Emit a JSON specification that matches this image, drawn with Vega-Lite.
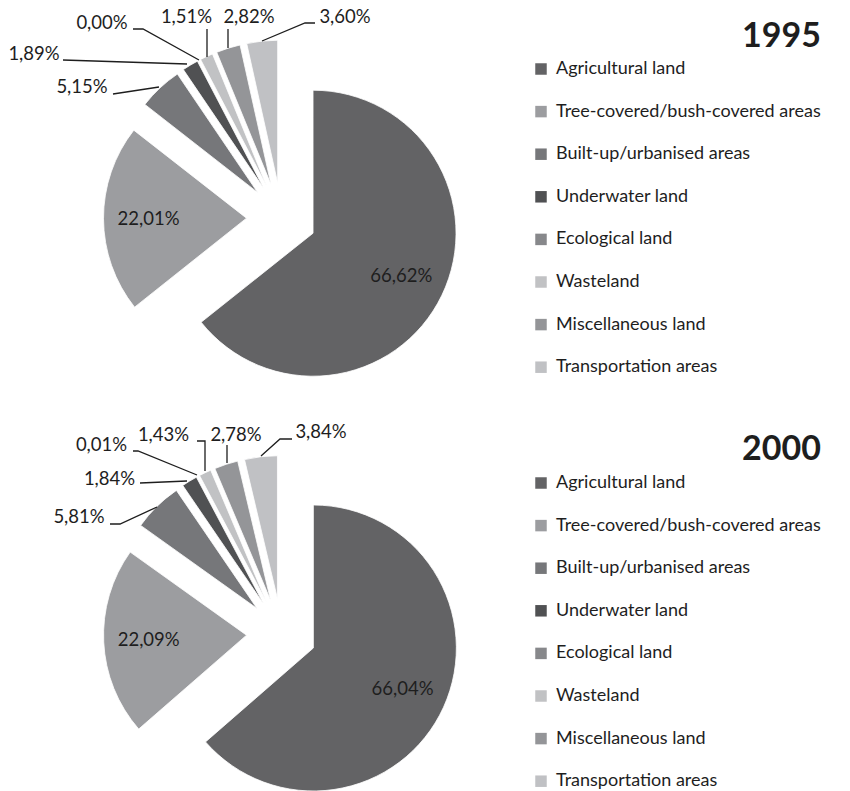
{
  "$schema": "https://vega.github.io/schema/vega-lite/v6.json",
  "padding": 0,
  "spacing": 0,
  "background": "white",
  "config": {"view": {"stroke": null}, "font": "Lato"},
  "datasets": {
    "shares": [
      {"year": 1995, "category": "Agricultural land", "value": 66.62},
      {"year": 1995, "category": "Tree-covered/bush-covered areas", "value": 22.01},
      {"year": 1995, "category": "Built-up/urbanised areas", "value": 5.15},
      {"year": 1995, "category": "Underwater land", "value": 1.89},
      {"year": 1995, "category": "Ecological land", "value": 0.00},
      {"year": 1995, "category": "Wasteland", "value": 1.51},
      {"year": 1995, "category": "Miscellaneous land", "value": 2.82},
      {"year": 1995, "category": "Transportation areas", "value": 3.60},
      {"year": 2000, "category": "Agricultural land", "value": 66.04},
      {"year": 2000, "category": "Tree-covered/bush-covered areas", "value": 22.09},
      {"year": 2000, "category": "Built-up/urbanised areas", "value": 5.81},
      {"year": 2000, "category": "Underwater land", "value": 1.84},
      {"year": 2000, "category": "Ecological land", "value": 0.01},
      {"year": 2000, "category": "Wasteland", "value": 1.43},
      {"year": 2000, "category": "Miscellaneous land", "value": 2.78},
      {"year": 2000, "category": "Transportation areas", "value": 3.84}
    ],
    "outsideLabels": [
      {"year": 1995, "label": "5,15%", "lx": -199.5, "ly": -131},
      {"year": 1995, "label": "1,89%", "lx": -247.5, "ly": -164},
      {"year": 1995, "label": "0,00%", "lx": -179.5, "ly": -195},
      {"year": 1995, "label": "1,51%", "lx": -95, "ly": -201},
      {"year": 1995, "label": "2,82%", "lx": -32.5, "ly": -201},
      {"year": 1995, "label": "3,60%", "lx": 63.5, "ly": -201},
      {"year": 2000, "label": "5,81%", "lx": -202.5, "ly": -116.5},
      {"year": 2000, "label": "1,84%", "lx": -172, "ly": -154.5},
      {"year": 2000, "label": "0,01%", "lx": -180, "ly": -188.5},
      {"year": 2000, "label": "1,43%", "lx": -118, "ly": -198.5},
      {"year": 2000, "label": "2,78%", "lx": -45.5, "ly": -198.5},
      {"year": 2000, "label": "3,84%", "lx": 39.5, "ly": -201.5}
    ],
    "leaders": [
      {"year": 1995, "id": "a", "seq": 1, "px": -168.5, "py": -124},
      {"year": 1995, "id": "a", "seq": 2, "px": -122.5, "py": -131},
      {"year": 1995, "id": "b", "seq": 1, "px": -218.5, "py": -158},
      {"year": 1995, "id": "b", "seq": 2, "px": -94.5, "py": -154},
      {"year": 1995, "id": "c", "seq": 1, "px": -148.5, "py": -189},
      {"year": 1995, "id": "c", "seq": 2, "px": -138.5, "py": -189},
      {"year": 1995, "id": "c", "seq": 3, "px": -82.5, "py": -158},
      {"year": 1995, "id": "d", "seq": 1, "px": -74.5, "py": -189},
      {"year": 1995, "id": "d", "seq": 2, "px": -74.5, "py": -161},
      {"year": 1995, "id": "e", "seq": 1, "px": -53.5, "py": -189},
      {"year": 1995, "id": "e", "seq": 2, "px": -53.5, "py": -170},
      {"year": 1995, "id": "f", "seq": 1, "px": -19.5, "py": -177},
      {"year": 1995, "id": "f", "seq": 2, "px": 23.5, "py": -195},
      {"year": 1995, "id": "f", "seq": 3, "px": 33.5, "py": -195},
      {"year": 2000, "id": "a", "seq": 1, "px": -171.5, "py": -109.5},
      {"year": 2000, "id": "a", "seq": 2, "px": -161.5, "py": -109.5},
      {"year": 2000, "id": "a", "seq": 3, "px": -124.5, "py": -126.5},
      {"year": 2000, "id": "b", "seq": 1, "px": -141.5, "py": -150.5},
      {"year": 2000, "id": "b", "seq": 2, "px": -94.5, "py": -152.5},
      {"year": 2000, "id": "c", "seq": 1, "px": -148.5, "py": -182.5},
      {"year": 2000, "id": "c", "seq": 2, "px": -143.5, "py": -182.5},
      {"year": 2000, "id": "c", "seq": 3, "px": -84.5, "py": -158.5},
      {"year": 2000, "id": "d", "seq": 1, "px": -84.5, "py": -192.5},
      {"year": 2000, "id": "d", "seq": 2, "px": -76.5, "py": -192.5},
      {"year": 2000, "id": "d", "seq": 3, "px": -76.5, "py": -162.5},
      {"year": 2000, "id": "e", "seq": 1, "px": -54.5, "py": -188.5},
      {"year": 2000, "id": "e", "seq": 2, "px": -54.5, "py": -170.5},
      {"year": 2000, "id": "f", "seq": 1, "px": -20.5, "py": -177.5},
      {"year": 2000, "id": "f", "seq": 2, "px": -1.5, "py": -194.5},
      {"year": 2000, "id": "f", "seq": 3, "px": 10.5, "py": -194.5}
    ]
  },
  "resolve": {"scale": {"color": "independent"}, "legend": {"color": "independent"}},
  "vconcat": [
    {
      "width": 850,
      "height": 395,
      "layer": [
        {
          "data": {"name": "shares"},
          "transform": [
            {"filter": "datum.year == 1995"},
            {"window": [{"op": "sum", "field": "value", "as": "cum"}], "frame": [null, 0]},
            {"joinaggregate": [{"op": "sum", "field": "value", "as": "total"}]},
            {"calculate": "(datum.cum - datum.value) / datum.total", "as": "f0"},
            {"calculate": "datum.cum / datum.total", "as": "f1"},
            {"calculate": "PI * (datum.f0 + datum.f1)", "as": "mid"},
            {"calculate": "35 * sin(datum.mid)", "as": "cx"},
            {"calculate": "-35 * cos(datum.mid)", "as": "cy"}
          ],
          "mark": {"type": "arc", "radius": 143, "stroke": "white", "strokeWidth": 0.8},
          "encoding": {
            "x": {"field": "cx", "type": "quantitative", "scale": {"domain": [-281.5, 568.5], "nice": false, "zero": false}, "axis": null},
            "y": {"field": "cy", "type": "quantitative", "scale": {"domain": [-218, 177], "nice": false, "zero": false, "reverse": true}, "axis": null},
            "theta": {"field": "f0", "type": "quantitative", "scale": {"domain": [0, 1], "range": [0, 6.283185307179586], "nice": false}},
            "theta2": {"field": "f1"},
            "color": {
              "field": "category", "type": "nominal",
              "scale": {
                "domain": ["Agricultural land", "Tree-covered/bush-covered areas", "Built-up/urbanised areas", "Underwater land", "Ecological land", "Wasteland", "Miscellaneous land", "Transportation areas"],
                "range": ["#636365", "#9c9da0", "#76777a", "#505153", "#87888b", "#c1c2c4", "#949598", "#c0c1c4"]
              },
              "legend": {
                "orient": "none", "legendX": 532, "legendY": 20, "padding": 0,
                "title": "1995", "titleFontSize": 34, "titleFontWeight": "bold", "titleAnchor": "end", "titleColor": "#1e1e1e", "titlePadding": 6,
                "labelFontSize": 18, "labelColor": "#1e1e1e", "labelOffset": 6, "labelLimit": 400,
                "symbolType": "square", "symbolSize": 132, "symbolStrokeWidth": 0, "rowPadding": 24.6
              }
            }
          }
        },
        {
          "data": {"name": "shares"},
          "transform": [
            {"filter": "datum.year == 1995"},
            {"window": [{"op": "sum", "field": "value", "as": "cum"}], "frame": [null, 0]},
            {"joinaggregate": [{"op": "sum", "field": "value", "as": "total"}]},
            {"filter": "datum.value > 10"},
            {"calculate": "PI * (2 * datum.cum - datum.value) / datum.total", "as": "mid"},
            {"calculate": "133 * sin(datum.mid)", "as": "lx"},
            {"calculate": "-133 * cos(datum.mid)", "as": "ly"},
            {"calculate": "replace(format(datum.value, '.2f'), '.', ',') + '%'", "as": "label"}
          ],
          "mark": {"type": "text", "fontSize": 18.5, "color": "#1e1e1e"},
          "encoding": {
            "x": {"field": "lx", "type": "quantitative"},
            "y": {"field": "ly", "type": "quantitative"},
            "text": {"field": "label"}
          }
        },
        {
          "data": {"name": "leaders"},
          "transform": [{"filter": "datum.year == 1995"}],
          "mark": {"type": "line", "color": "#1e1e1e", "strokeWidth": 1.3},
          "encoding": {
            "x": {"field": "px", "type": "quantitative"},
            "y": {"field": "py", "type": "quantitative"},
            "detail": {"field": "id"},
            "order": {"field": "seq"}
          }
        },
        {
          "data": {"name": "outsideLabels"},
          "transform": [{"filter": "datum.year == 1995"}],
          "mark": {"type": "text", "fontSize": 18.5, "color": "#1e1e1e"},
          "encoding": {
            "x": {"field": "lx", "type": "quantitative"},
            "y": {"field": "ly", "type": "quantitative"},
            "text": {"field": "label"}
          }
        }
      ]
    },
    {
      "width": 850,
      "height": 396,
      "layer": [
        {
          "data": {"name": "shares"},
          "transform": [
            {"filter": "datum.year == 2000"},
            {"window": [{"op": "sum", "field": "value", "as": "cum"}], "frame": [null, 0]},
            {"joinaggregate": [{"op": "sum", "field": "value", "as": "total"}]},
            {"calculate": "(datum.cum - datum.value) / datum.total", "as": "f0"},
            {"calculate": "datum.cum / datum.total", "as": "f1"},
            {"calculate": "PI * (datum.f0 + datum.f1)", "as": "mid"},
            {"calculate": "35 * sin(datum.mid)", "as": "cx"},
            {"calculate": "-35 * cos(datum.mid)", "as": "cy"}
          ],
          "mark": {"type": "arc", "radius": 143, "stroke": "white", "strokeWidth": 0.8},
          "encoding": {
            "x": {"field": "cx", "type": "quantitative", "scale": {"domain": [-281.5, 568.5], "nice": false, "zero": false}, "axis": null},
            "y": {"field": "cy", "type": "quantitative", "scale": {"domain": [-238.5, 157.5], "nice": false, "zero": false, "reverse": true}, "axis": null},
            "theta": {"field": "f0", "type": "quantitative", "scale": {"domain": [0, 1], "range": [0, 6.283185307179586], "nice": false}},
            "theta2": {"field": "f1"},
            "color": {
              "field": "category", "type": "nominal",
              "scale": {
                "domain": ["Agricultural land", "Tree-covered/bush-covered areas", "Built-up/urbanised areas", "Underwater land", "Ecological land", "Wasteland", "Miscellaneous land", "Transportation areas"],
                "range": ["#636365", "#9c9da0", "#76777a", "#505153", "#87888b", "#c1c2c4", "#949598", "#c0c1c4"]
              },
              "legend": {
                "orient": "none", "legendX": 532, "legendY": 38, "padding": 0,
                "title": "2000", "titleFontSize": 34, "titleFontWeight": "bold", "titleAnchor": "end", "titleColor": "#1e1e1e", "titlePadding": 7,
                "labelFontSize": 18, "labelColor": "#1e1e1e", "labelOffset": 6, "labelLimit": 400,
                "symbolType": "square", "symbolSize": 132, "symbolStrokeWidth": 0, "rowPadding": 24.6
              }
            }
          }
        },
        {
          "data": {"name": "shares"},
          "transform": [
            {"filter": "datum.year == 2000"},
            {"window": [{"op": "sum", "field": "value", "as": "cum"}], "frame": [null, 0]},
            {"joinaggregate": [{"op": "sum", "field": "value", "as": "total"}]},
            {"filter": "datum.value > 10"},
            {"calculate": "PI * (2 * datum.cum - datum.value) / datum.total", "as": "mid"},
            {"calculate": "133 * sin(datum.mid)", "as": "lx"},
            {"calculate": "-133 * cos(datum.mid)", "as": "ly"},
            {"calculate": "replace(format(datum.value, '.2f'), '.', ',') + '%'", "as": "label"}
          ],
          "mark": {"type": "text", "fontSize": 18.5, "color": "#1e1e1e"},
          "encoding": {
            "x": {"field": "lx", "type": "quantitative"},
            "y": {"field": "ly", "type": "quantitative"},
            "text": {"field": "label"}
          }
        },
        {
          "data": {"name": "leaders"},
          "transform": [{"filter": "datum.year == 2000"}],
          "mark": {"type": "line", "color": "#1e1e1e", "strokeWidth": 1.3},
          "encoding": {
            "x": {"field": "px", "type": "quantitative"},
            "y": {"field": "py", "type": "quantitative"},
            "detail": {"field": "id"},
            "order": {"field": "seq"}
          }
        },
        {
          "data": {"name": "outsideLabels"},
          "transform": [{"filter": "datum.year == 2000"}],
          "mark": {"type": "text", "fontSize": 18.5, "color": "#1e1e1e"},
          "encoding": {
            "x": {"field": "lx", "type": "quantitative"},
            "y": {"field": "ly", "type": "quantitative"},
            "text": {"field": "label"}
          }
        }
      ]
    }
  ]
}
